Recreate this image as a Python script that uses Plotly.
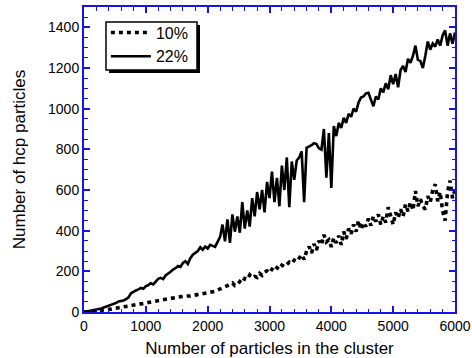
import plotly.graph_objects as go

# x positions (number of particles in the cluster)
x_vals = list(range(0, 6001, 40))

# 22% series: number of hcp particles
y22 = [0, 2, 4, 6, 9, 11, 14, 17, 22, 26,
       30, 35, 41, 45, 52, 54, 57, 63, 72, 92,
       100, 106, 111, 118, 114, 127, 132, 141, 136, 152,
       163, 168, 162, 180, 188, 198, 209, 215, 226, 222,
       241, 250, 236, 265, 282, 290, 300, 318, 306, 322,
       312, 330, 325, 320, 345, 368, 430, 348, 455, 340,
       480, 395, 470, 390, 540, 410, 500, 420, 560, 470,
       590, 505, 600, 490, 640, 560, 690, 540, 660, 520,
       720, 600, 760, 515, 740, 650, 745, 760, 790, 540,
       807, 812, 820, 830, 826, 805, 798, 900, 660, 880,
       610, 915, 865, 930, 905, 955, 930, 975, 960, 1000,
       985, 1030, 1055, 1060, 1075, 1078, 1040, 1012, 1060, 1045,
       1100, 1080, 1125, 1095, 1165, 1120, 1170, 1105, 1190, 1210,
       1180, 1245, 1225, 1260, 1310, 1240, 1235, 1200, 1260, 1330,
       1290, 1320, 1305, 1340, 1310, 1360, 1385, 1310, 1370, 1320,
       1375]

# 10% series: number of hcp particles
y10 = [0, 1, 2, 3, 4, 5, 6, 8, 9, 11,
       12, 14, 17, 19, 22, 24, 25, 26, 27, 28,
       31, 34, 37, 40, 42, 44, 47, 49, 51, 53,
       54, 55, 58, 60, 62, 64, 68, 71, 74, 76,
       77, 78, 79, 79, 81, 83, 84, 87, 90, 92,
       93, 94, 96, 102, 108, 112, 118, 124, 130, 138,
       143, 130, 135, 150, 142, 165, 160, 182, 168, 175,
       170, 190, 180, 197, 202, 192, 210, 200, 218, 210,
       230, 222, 236, 245, 238, 255, 248, 268, 282, 258,
       300, 322, 290, 335, 305, 350, 330, 380, 345, 355,
       320, 365, 340, 375, 330, 395, 360, 410, 385, 430,
       395, 450, 405, 440, 420, 460, 425, 470, 445, 480,
       430, 470, 440, 515, 470, 430, 490, 462, 505, 470,
       530, 495, 540, 500, 595, 520, 555, 520, 505, 570,
       540, 600, 628, 545, 590, 497, 450, 590, 646, 560,
       600]

x_ticks = [0, 1000, 2000, 3000, 4000, 5000, 6000]
y_ticks = [0, 200, 400, 600, 800, 1000, 1200, 1400]

AXIS_BLUE = "#1414e6"
FONT = "Liberation Sans, Arial, Helvetica, sans-serif"

fig = go.Figure()
fig.add_trace(go.Scatter(
    x=x_vals, y=y10, mode="lines", name="10%",
    line=dict(color="black", width=3.6, dash="4px,4px"),
))
fig.add_trace(go.Scatter(
    x=x_vals, y=y22, mode="lines", name="22%",
    line=dict(color="black", width=2.6),
))

axis_common = dict(
    showline=True, linecolor=AXIS_BLUE, linewidth=2,
    mirror="allticks", ticks="inside", tickcolor=AXIS_BLUE,
    ticklen=6, tickwidth=1.6, showgrid=False, zeroline=False,
    automargin=False,
    tickfont=dict(family=FONT, size=14, color="black"),
)

fig.update_xaxes(
    range=[0, 6000], tickvals=x_ticks,
    title=dict(text="Number of particles in the cluster",
               font=dict(family=FONT, size=17, color="black"), standoff=10),
    minor=dict(dtick=200, ticks="inside", ticklen=3.5, tickcolor=AXIS_BLUE, tickwidth=1.4, showgrid=False),
    **axis_common,
)
fig.update_yaxes(
    range=[0, 1500], tickvals=y_ticks,
    title=dict(text="Number of hcp particles",
               font=dict(family=FONT, size=17, color="black"), standoff=18),
    minor=dict(dtick=50, ticks="inside", ticklen=3.5, tickcolor=AXIS_BLUE, tickwidth=1.4, showgrid=False),
    **axis_common,
)

# legend box: drop shadow, then white framed panel (legend entries drawn on top)
fig.add_shape(type="rect", xref="paper", yref="paper",
              x0=0.0674, x1=0.3127, y0=0.7836, y1=0.941,
              fillcolor="black", line=dict(width=0), layer="above")
fig.add_shape(type="rect", xref="paper", yref="paper",
              x0=0.0593, x1=0.3046, y0=0.7934, y1=0.9508,
              fillcolor="white", line=dict(color="black", width=1.5), layer="above")

fig.update_layout(
    width=472, height=358,
    margin=dict(l=84, r=17, t=7, b=46),
    paper_bgcolor="white", plot_bgcolor="white",
    showlegend=True,
    legend=dict(x=0.059, y=0.972, xanchor="left", yanchor="top",
                bgcolor="rgba(0,0,0,0)", borderwidth=0,
                font=dict(family=FONT, size=16, color="black"),
                tracegroupgap=0, itemwidth=40),
    font=dict(family=FONT),
)

fig.write_html("out.html")
